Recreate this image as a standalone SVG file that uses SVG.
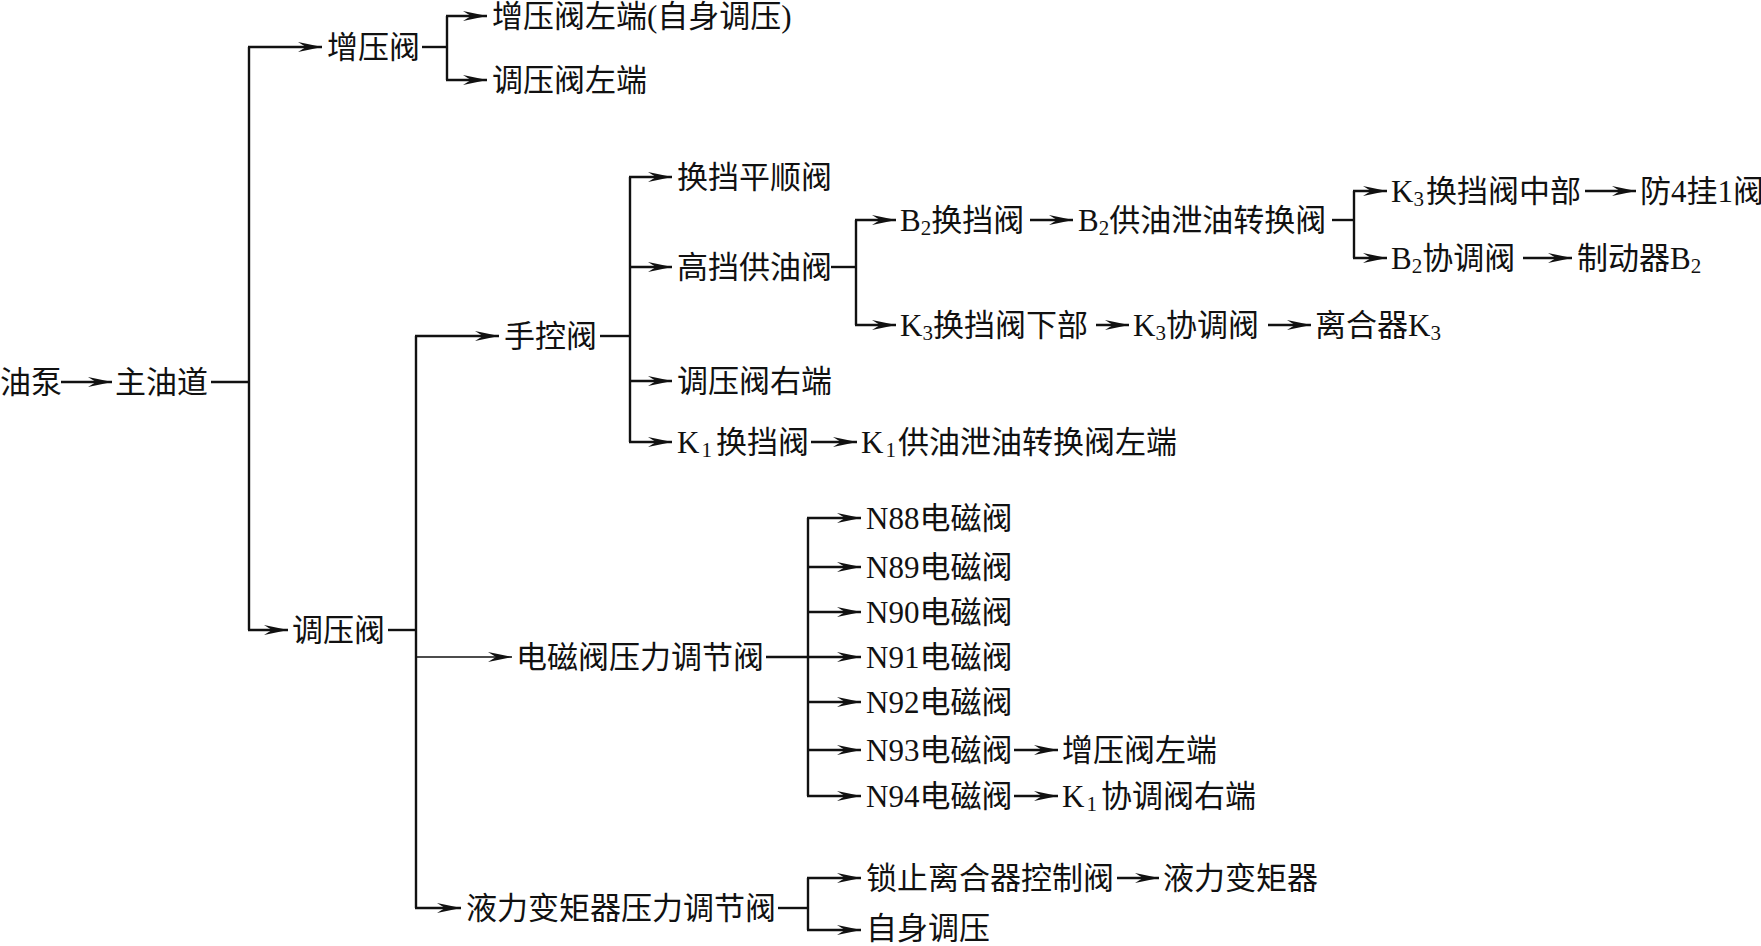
<svg xmlns="http://www.w3.org/2000/svg" width="1761" height="946" viewBox="0 0 1761 946">
<style>
  .t { font-family: "Liberation Serif", "Noto Sans CJK SC", serif; font-size: 31px; fill: #111; dominant-baseline: central; }
  .s { font-size: 21px; }
  .c line { stroke: #111; stroke-width: 2.4; fill: none; }
  .c .a { marker-end: url(#ah); }
  .c .thin { stroke-width: 1.4; }
</style>
<defs>
  <marker id="ah" markerUnits="userSpaceOnUse" viewBox="-25 -6 26 12" refX="0" refY="0" markerWidth="26" markerHeight="12" orient="auto">
    <path d="M0,0 L-24,-5 L-16,0 L-24,5 Z" fill="#111" stroke="none"/>
  </marker>
</defs>
<rect width="1761" height="946" fill="#fff"/>

<g id="connectors" class="c">
  <line class="a" x1="61" y1="382" x2="112" y2="382"/>
  <line x1="211" y1="382" x2="249" y2="382"/>
  <line x1="249" y1="47" x2="249" y2="630"/>
  <line class="a" x1="248" y1="47" x2="322" y2="47"/>
  <line class="a" x1="248" y1="630" x2="288" y2="630"/>
  <line x1="422" y1="47" x2="447" y2="47"/>
  <line x1="447" y1="16" x2="447" y2="80"/>
  <line class="a" x1="446" y1="16" x2="487" y2="16"/>
  <line class="a" x1="446" y1="80" x2="487" y2="80"/>
  <line x1="388" y1="630" x2="416" y2="630"/>
  <line x1="416" y1="336" x2="416" y2="908"/>
  <line class="a" x1="415" y1="336" x2="499" y2="336"/>
  <line class="a thin" x1="416" y1="657" x2="512" y2="657"/>
  <line class="a" x1="415" y1="908" x2="461" y2="908"/>
  <line x1="600" y1="336" x2="630" y2="336"/>
  <line x1="630" y1="177" x2="630" y2="442"/>
  <line class="a" x1="629" y1="177" x2="672" y2="177"/>
  <line class="a" x1="629" y1="267" x2="672" y2="267"/>
  <line class="a" x1="629" y1="381" x2="672" y2="381"/>
  <line class="a" x1="629" y1="442" x2="672" y2="442"/>
  <line class="a" x1="811" y1="442" x2="857" y2="442"/>
  <line x1="831" y1="267" x2="856" y2="267"/>
  <line x1="856" y1="220" x2="856" y2="325"/>
  <line class="a" x1="855" y1="220" x2="896" y2="220"/>
  <line class="a" x1="855" y1="325" x2="896" y2="325"/>
  <line class="a" x1="1030" y1="220" x2="1073" y2="220"/>
  <line x1="1332" y1="220" x2="1354" y2="220"/>
  <line x1="1354" y1="191" x2="1354" y2="258"/>
  <line class="a" x1="1353" y1="191" x2="1387" y2="191"/>
  <line class="a" x1="1353" y1="258" x2="1387" y2="258"/>
  <line class="a" x1="1585" y1="191" x2="1636" y2="191"/>
  <line class="a" x1="1523" y1="258" x2="1572" y2="258"/>
  <line class="a" x1="1096" y1="325" x2="1129" y2="325"/>
  <line class="a" x1="1268" y1="325" x2="1311" y2="325"/>
  <line x1="766" y1="657" x2="808" y2="657"/>
  <line x1="808" y1="518" x2="808" y2="796"/>
  <line class="a" x1="807" y1="518" x2="861" y2="518"/>
  <line class="a" x1="807" y1="567" x2="861" y2="567"/>
  <line class="a" x1="807" y1="612" x2="861" y2="612"/>
  <line class="a" x1="807" y1="657" x2="861" y2="657"/>
  <line class="a" x1="807" y1="702" x2="861" y2="702"/>
  <line class="a" x1="807" y1="750" x2="861" y2="750"/>
  <line class="a" x1="807" y1="796" x2="861" y2="796"/>
  <line class="a" x1="1014" y1="750" x2="1058" y2="750"/>
  <line class="a" x1="1014" y1="796" x2="1058" y2="796"/>
  <line x1="778" y1="908" x2="808" y2="908"/>
  <line x1="808" y1="878" x2="808" y2="930"/>
  <line class="a" x1="807" y1="878" x2="861" y2="878"/>
  <line class="a" x1="807" y1="930" x2="861" y2="930"/>
  <line class="a" x1="1117" y1="878" x2="1159" y2="878"/>
</g>

<g id="n-youbeng"><text class="t" x="0" y="382">油泵</text></g>
<g id="n-zhuyoudao"><text class="t" x="115" y="382">主油道</text></g>
<g id="n-zengyafa"><text class="t" x="327" y="47">增压阀</text></g>
<g id="n-zengyafa-left"><text class="t" x="492" y="16">增压阀左端(自身调压)</text></g>
<g id="n-tiaoyafa-left"><text class="t" x="492" y="80">调压阀左端</text></g>
<g id="n-tiaoyafa"><text class="t" x="292" y="630">调压阀</text></g>
<g id="n-shoukongfa"><text class="t" x="504" y="336">手控阀</text></g>
<g id="n-huandangpingshun"><text class="t" x="677" y="177">换挡平顺阀</text></g>
<g id="n-gaodang"><text class="t" x="677" y="267">高挡供油阀</text></g>
<g id="n-tiaoyafa-right"><text class="t" x="677" y="381">调压阀右端</text></g>
<g id="n-k1huandang"><text class="t" x="677" y="442">K<tspan class="s" dx="2" dy="8">1</tspan><tspan dx="4" dy="-8">换挡阀</tspan></text></g>
<g id="n-k1gongyou"><text class="t" x="861" y="442">K<tspan class="s" dx="2" dy="8">1</tspan><tspan dx="2" dy="-8">供油泄油转换阀左端</tspan></text></g>
<g id="n-b2huandang"><text class="t" x="900" y="220">B<tspan class="s" dy="8">2</tspan><tspan dy="-8">换挡阀</tspan></text></g>
<g id="n-b2gongyou"><text class="t" x="1078" y="220">B<tspan class="s" dy="8">2</tspan><tspan dy="-8">供油泄油转换阀</tspan></text></g>
<g id="n-k3xiabu"><text class="t" x="900" y="325">K<tspan class="s" dy="8">3</tspan><tspan dy="-8">换挡阀下部</tspan></text></g>
<g id="n-k3xietiao"><text class="t" x="1133" y="325">K<tspan class="s" dy="8">3</tspan><tspan dy="-8">协调阀</tspan></text></g>
<g id="n-liheqik3"><text class="t" x="1315" y="325">离合器K<tspan class="s" dy="8">3</tspan></text></g>
<g id="n-k3zhongbu"><text class="t" x="1391" y="191">K<tspan class="s" dy="8">3</tspan><tspan dx="2" dy="-8">换挡阀中部</tspan></text></g>
<g id="n-fang41"><text class="t" x="1640" y="191">防4挂1阀</text></g>
<g id="n-b2xietiao"><text class="t" x="1391" y="258">B<tspan class="s" dy="8">2</tspan><tspan dy="-8">协调阀</tspan></text></g>
<g id="n-zhidongqib2"><text class="t" x="1577" y="258">制动器B<tspan class="s" dy="8">2</tspan></text></g>
<g id="n-diancifa-tiaojie"><text class="t" x="516" y="657">电磁阀压力调节阀</text></g>
<g id="n-n88"><text class="t" x="866" y="518">N88电磁阀</text></g>
<g id="n-n89"><text class="t" x="866" y="567">N89电磁阀</text></g>
<g id="n-n90"><text class="t" x="866" y="612">N90电磁阀</text></g>
<g id="n-n91"><text class="t" x="866" y="657">N91电磁阀</text></g>
<g id="n-n92"><text class="t" x="866" y="702">N92电磁阀</text></g>
<g id="n-n93"><text class="t" x="866" y="750">N93电磁阀</text></g>
<g id="n-n94"><text class="t" x="866" y="796">N94电磁阀</text></g>
<g id="n-zengyafa-left2"><text class="t" x="1062" y="750">增压阀左端</text></g>
<g id="n-k1xietiao-right"><text class="t" x="1062" y="796">K<tspan class="s" dx="2" dy="8">1</tspan><tspan dx="4" dy="-8">协调阀右端</tspan></text></g>
<g id="n-yelibianjuqi-tiaojie"><text class="t" x="466" y="908">液力变矩器压力调节阀</text></g>
<g id="n-suozhi"><text class="t" x="866" y="878">锁止离合器控制阀</text></g>
<g id="n-yelibianjuqi"><text class="t" x="1163" y="878">液力变矩器</text></g>
<g id="n-zishen"><text class="t" x="866" y="928">自身调压</text></g>
</svg>
